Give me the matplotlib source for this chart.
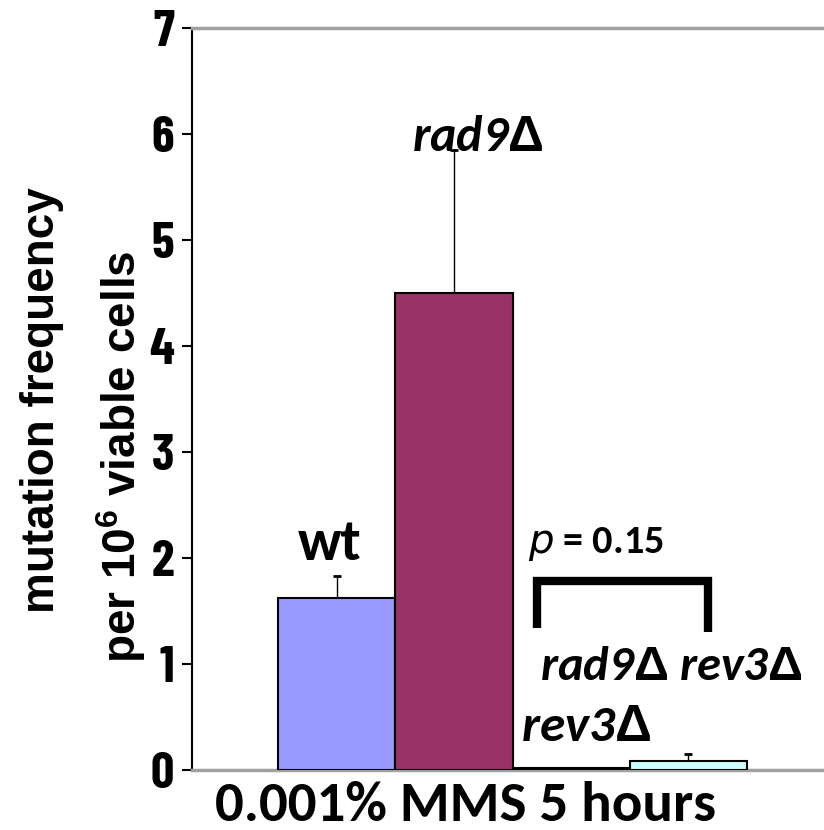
import numpy as np
import matplotlib
matplotlib.use("Agg")
import matplotlib.pyplot as plt

# data
strains = ["wt", "rad9", "rev3", "rad9 rev3"]
freq = [1.62, 4.50, 0.02, 0.085]
err_up = [0.21, 1.35, 0.0, 0.065]
colors = ["#9999ff", "#993366", "#222222", "#ccffff"]
yticks = [0, 1, 2, 3, 4, 5, 6, 7]

plt.rcParams["mathtext.fontset"] = "custom"
plt.rcParams["mathtext.rm"] = "Liberation Sans:bold"

W, H = 824, 830
fig = plt.figure(figsize=(W / 100, H / 100), dpi=100)
ax = fig.add_axes([192 / W, (H - 770) / H, (824 - 192) / W, (770 - 28) / H])

x = np.arange(len(strains))
ax.bar(x, freq, width=1.0, align="edge", color=colors, edgecolor="black",
       linewidth=1.5, zorder=3)
ax.errorbar(x + 0.5, freq, yerr=[np.zeros(len(err_up)), err_up], fmt="none",
            ecolor="black", elinewidth=1, capsize=3, capthick=2, zorder=2)

ax.set_xlim(-0.733, 4.656)
ax.set_ylim(0, 7)
ax.set_yticks(yticks)
ax.set_xticks([])

narrow = ["Barlow Condensed", "Liberation Sans Narrow", "DejaVu Sans"]
ax.set_yticklabels([str(t) for t in yticks],
                   fontdict=dict(family=narrow, weight="bold", size=37))
ax.tick_params(axis="y", direction="out", length=7, width=1.5, pad=6)

ax.spines["right"].set_visible(False)
ax.spines["left"].set_linewidth(1.5)
ax.spines["bottom"].set_color("#a0a0a0")
ax.spines["bottom"].set_linewidth(2.5)
ax.spines["top"].set_color("#a0a0a0")
ax.spines["top"].set_linewidth(2.5)

# y label, two lines
lab = dict(family=["Liberation Sans", "DejaVu Sans"], weight="bold", size=33,
           rotation=90, ha="center", va="center")
fig.text(42 / W, 1 - 400 / H, "mutation frequency", **lab)
fig.text(121 / W, 1 - 457 / H, r"per 10$^{\mathrm{6}}$ viable cells", **lab)

calibri = ["Carlito", "Lato", "DejaVu Sans"]
# x label
fig.text(466 / W, 1 - 805 / H, "0.001% MMS 5 hours",
         family=calibri, weight="bold", size=41, ha="center", va="center")

# strain labels
ann = dict(family=calibri, weight="bold", ha="center", va="center")
D = r"$\mathrm{\Delta}$"
ax.text(0.44, 2.13, "wt", size=42, **ann)
ax.text(1.70, 5.97, "rad9" + D, style="italic", size=36, **ann)
ax.text(2.63, 0.41, "rev3" + D, style="italic", size=37, **ann)
ax.text(3.35, 0.97, "rad9" + D + " rev3" + D, style="italic", size=35, **ann)
ax.text(2.71, 2.13, "$\\it{p}$ = 0.15", size=29, **ann)

# significance bracket
ax.plot([2.21, 2.21, 3.67, 3.67], [1.34, 1.78, 1.78, 1.30], color="black",
        linewidth=6, solid_capstyle="butt", solid_joinstyle="miter", clip_on=False)

fig.savefig("out.png", dpi=100)
